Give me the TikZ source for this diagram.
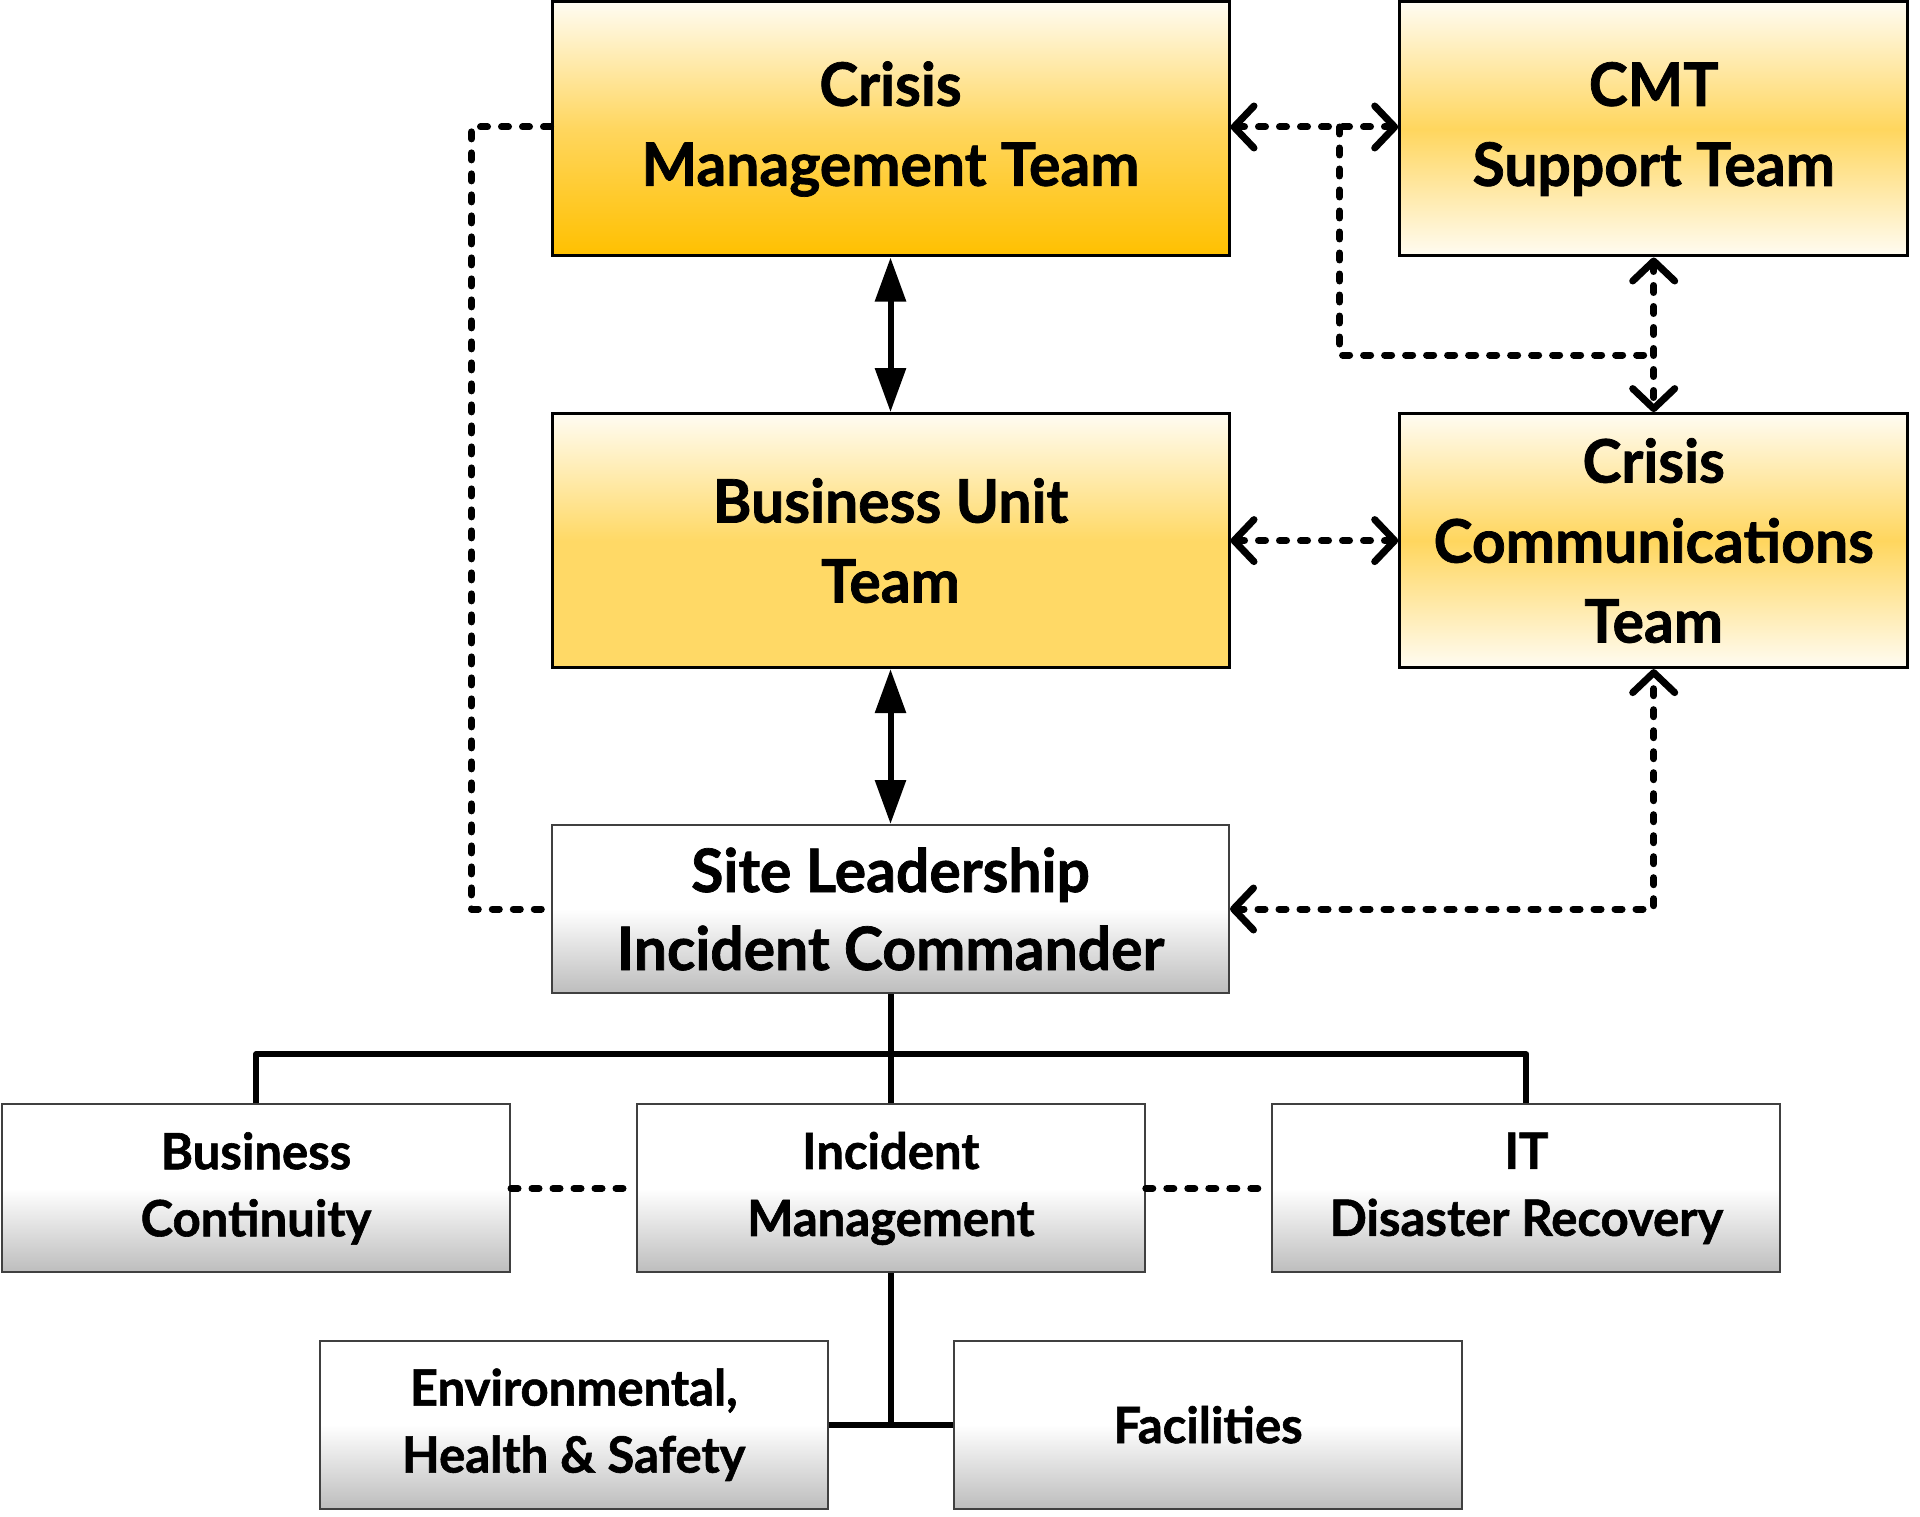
\documentclass[tikz,border=0pt]{standalone}
\usepackage{fontspec}
\newfontfamily\bx{Lato}[FakeStretch=0.98, FakeBold=1.2]
\usetikzlibrary{arrows.meta,calc}
\definecolor{gold}{HTML}{FFC000}
\definecolor{goldmid}{HTML}{FFD65E}
\definecolor{cream}{HTML}{FFFCF2}
\definecolor{butyel}{HTML}{FFD966}
\definecolor{boxgray}{HTML}{BDBDBD}
\pgfdeclareverticalshading{cmtshade}{100bp}{color(0bp)=(gold); color(25bp)=(gold); color(50bp)=(goldmid); color(75bp)=(cream); color(100bp)=(cream)}
\pgfdeclareverticalshading{midshade}{100bp}{color(0bp)=(cream); color(25bp)=(cream); color(50bp)=(goldmid); color(75bp)=(cream); color(100bp)=(cream)}
\pgfdeclareverticalshading{butshade}{100bp}{color(0bp)=(butyel); color(25bp)=(butyel); color(50bp)=(butyel); color(75bp)=(cream); color(100bp)=(cream)}
\pgfdeclareverticalshading{grayshade}{100bp}{color(0bp)=(boxgray); color(25bp)=(boxgray); color(50bp)=(white); color(75bp)=(white); color(100bp)=(white)}
\tikzset{
  bigbox/.style={draw=black, line width=3pt, inner sep=0pt, align=center,
    minimum width=677pt, minimum height=254pt,
    font=\bx\bfseries\fontsize{60}{80}\selectfont},
  sidebox/.style={bigbox, minimum width=508pt},
  sitebox/.style={draw=black!75, line width=2pt, inner sep=0pt, align=center,
    minimum width=677pt, minimum height=168pt, shade, shading=grayshade,
    font=\bx\bfseries\fontsize{60}{78}\selectfont},
  smallbox/.style={draw=black!75, line width=2pt, inner sep=0pt, align=center,
    minimum width=508pt, minimum height=168pt, shade, shading=grayshade,
    font=\bx\bfseries\fontsize{50}{67}\selectfont},
  solidarrow/.style={line width=6pt, {Triangle[length=44pt,width=30pt]}-{Triangle[length=44pt,width=30pt]}},
  dotline/.style={line width=7pt, line cap=round, line join=round, dash pattern=on 7pt off 14pt},
  barb/.tip={Straight Barb[length=20pt,width=42pt,round]},
  treeline/.style={line width=6pt, line join=round},
}
\begin{document}
\begin{tikzpicture}[x=1pt,y=1pt]
\useasboundingbox (0,0) rectangle (1920,-1517);
% boxes
\node[bigbox, shade, shading=cmtshade] (cmt) at (890.5,-129) {Crisis\\Management Team};
\node[sidebox, shade, shading=midshade] (sup) at (1653.7,-129) {CMT\\Support Team};
\node[bigbox, shade, shading=butshade] (but) at (890.5,-540.6) {Business Unit\\Team};
\node[sidebox, shade, shading=midshade] (cct) at (1653.7,-540.6) {Crisis\\Communications\\Team};
\node[sitebox] (site) at (890.5,-909) {Site Leadership\\Incident Commander};
\node[smallbox] (bc) at (256,-1188.4) {Business\\Continuity};
\node[smallbox] (im) at (890.8,-1188.4) {Incident\\Management};
\node[smallbox] (it) at (1526.4,-1188.4) {IT\\Disaster Recovery};
\node[smallbox] (ehs) at (573.7,-1424.7) {Environmental,\\Health \& Safety};
\node[smallbox] (fac) at (1208,-1424.7) {Facilities};
% helper coordinates
\coordinate (lx) at (471.4,-127);
\coordinate (br) at (1339.6,-127);
\coordinate (br2) at (1339.6,-355);
\coordinate (bus) at (0,-1054.3);
% solid arrows
\draw[solidarrow] (cmt.south) -- (but.north);
\draw[solidarrow] (but.south) -- (site.north);
% dotted connectors
\draw[dotline] (cmt.west |- lx) -- (lx) -- (lx |- site.west) -- (site.west);
\draw[dotline, barb-barb] (cmt.east |- lx) -- (sup.west |- lx);
\draw[dotline] (br) -- (br2) -- (sup.south |- br2);
\draw[dotline, barb-barb] (sup.south) -- (cct.north);
\draw[dotline, barb-barb] (but.east) -- (cct.west);
\draw[dotline, barb-barb] (site.east) -| (cct.south);
\draw[dotline] (bc.east) -- (im.west);
\draw[dotline] (im.east) -- (it.west);
% tree
\draw[treeline] (site.south) -- (site.south |- bus);
\draw[treeline] (bc.north) -- (bc.north |- bus) -- (it.north |- bus) -- (it.north);
\draw[treeline] (im.north) -- (im.north |- bus);
\draw[treeline] (im.south) -- (im.south |- ehs.east);
\draw[treeline] (ehs.east) -- (fac.west);
\end{tikzpicture}
\end{document}
